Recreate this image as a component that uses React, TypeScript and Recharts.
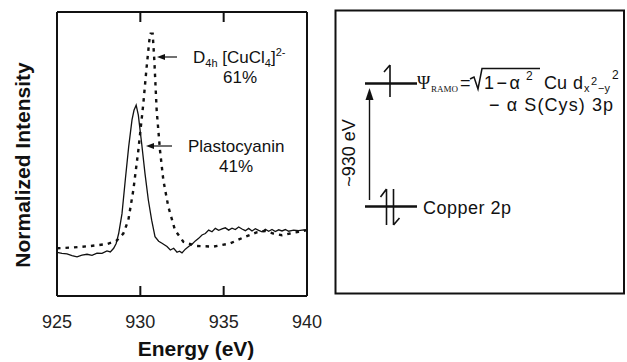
import { LineChart, Line, XAxis, YAxis } from 'recharts'

// Plastocyanin (solid)
const plastoEnergy = [
  925.0, 925.3, 925.6, 925.9, 926.2, 926.5, 926.8, 927.1, 927.4, 927.7, 928.0, 928.2, 928.4, 928.55,
  928.7, 928.9, 929.1, 929.3, 929.5, 929.62, 929.75, 929.88, 930.08, 930.28, 930.48, 930.68, 930.88,
  931.1, 931.3, 931.6, 931.8, 932.0, 932.2, 932.35, 932.5, 932.7, 932.9, 933.1, 933.3, 933.5, 933.7,
  933.9, 934.1, 934.3, 934.5, 934.7, 934.9, 935.1, 935.3, 935.5, 935.7, 935.9, 936.1, 936.3, 936.5,
  936.7, 936.9, 937.1, 937.3, 937.5, 937.7, 937.9, 938.1, 938.3, 938.5, 938.7, 938.9, 939.2, 939.5,
  939.8, 940.0,
]
const plastoIntensity = [
  15.4, 15.0, 14.8, 14.2, 13.8, 14.4, 14.7, 14.3, 15.1, 15.0, 15.9, 15.5, 16.8, 18.5,
  22, 29, 41, 52.5, 62, 65.4, 67.2, 63.7, 53.7, 43.1, 33.8, 26.7, 20.9,
  19.3, 18.6, 17.4, 16.2, 16.8, 15.4, 15.8, 15.2, 16.5, 17.4, 18.2, 19.4, 20.3, 21.5,
  22.0, 23.2, 22.6, 23.8, 23.1, 23.6, 24.0, 23.2, 23.9, 23.4, 24.3, 23.6, 23.0, 23.8,
  22.9, 23.7, 23.1, 22.6, 23.5, 22.8, 23.4, 22.7, 23.3, 22.9, 23.4, 22.8, 23.2, 23.0,
  23.3, 23.1,
]

// D4h [CuCl4]2- (dotted)
const cuclEnergy = [
  925.0, 926.0, 927.0, 928.0, 928.58, 928.98, 929.28, 929.58, 929.88, 930.18, 930.38, 930.54,
  930.62, 930.74, 930.84, 930.98, 931.18, 931.38, 931.68, 932.08, 932.58, 933.38, 934.38, 935.38,
  936.18, 936.98, 937.5, 937.98, 938.5, 938.98, 939.5, 940.0,
]
const cuclIntensity = [
  16.8, 17.1, 17.6, 18.3, 19.5, 22, 26.7, 37.3, 51.3, 67.8, 80.7, 90,
  92.4, 92.4, 83, 65.4, 51.3, 40.8, 31.4, 23.2, 19.1, 17.6, 17.4, 18.5,
  20.6, 22.4, 22.9, 22.0, 21.4, 22.0, 22.6, 23.2,
]

const energyTicks = [925, 930, 935, 940]

const plastoData = plastoEnergy.map((e, i) => ({ e, v: plastoIntensity[i] }))
const cuclData = cuclEnergy.map((e, i) => ({ e, v: cuclIntensity[i] }))

const SANS = '"Liberation Sans", Arial, Helvetica, sans-serif'
const SERIF = '"Liberation Serif", "Times New Roman", serif'
const INK = '#111'

// ticks point inward (up) with the value below the frame
const BottomTick = (props: any) => {
  const { x, y, payload } = props
  return (
    <g>
      <line x1={x} y1={y} x2={x} y2={y - 10} stroke={INK} strokeWidth={2} />
      <text x={x} y={y + 32} textAnchor="middle" fontSize={18} fontFamily={SANS} fill="#222">
        {payload.value}
      </text>
    </g>
  )
}

const TopTick = (props: any) => {
  const { x, y } = props
  return <line x1={x} y1={y} x2={x} y2={y + 10} stroke={INK} strokeWidth={2} />
}

export default function App() {
  return (
    <div style={{ position: 'absolute', left: 0, top: 0, width: 627, height: 362, background: '#fff' }}>
      <div style={{ position: 'absolute', left: 0, top: 0 }}>
        <LineChart width={330} height={362} margin={{ top: 11, right: 22, bottom: 36, left: 56 }}>
          <XAxis
            xAxisId="b"
            type="number"
            dataKey="e"
            domain={[925, 940]}
            ticks={energyTicks}
            allowDataOverflow
            height={30}
            tickSize={0}
            tickMargin={0}
            tick={BottomTick}
            axisLine={{ stroke: INK, strokeWidth: 2 }}
          />
          <XAxis
            xAxisId="t"
            orientation="top"
            type="number"
            dataKey="e"
            domain={[925, 940]}
            ticks={energyTicks}
            allowDataOverflow
            height={1}
            tickSize={0}
            tickMargin={0}
            tick={TopTick}
            axisLine={{ stroke: INK, strokeWidth: 2 }}
          />
          <YAxis
            yAxisId="l"
            domain={[0, 100]}
            width={1}
            tick={false}
            tickLine={false}
            axisLine={{ stroke: INK, strokeWidth: 2 }}
          />
          <YAxis
            yAxisId="r"
            orientation="right"
            domain={[0, 100]}
            width={1}
            tick={false}
            tickLine={false}
            axisLine={{ stroke: INK, strokeWidth: 2 }}
          />
          <Line
            data={cuclData}
            xAxisId="b"
            yAxisId="l"
            dataKey="v"
            type="linear"
            stroke={INK}
            strokeWidth={2.4}
            strokeDasharray="3.5 5"
            dot={false}
            isAnimationActive={false}
          />
          <Line
            data={plastoData}
            xAxisId="b"
            yAxisId="l"
            dataKey="v"
            type="linear"
            stroke={INK}
            strokeWidth={1.3}
            dot={false}
            isAnimationActive={false}
          />
        </LineChart>
      </div>

      {/* annotations + energy level diagram */}
      <svg
        width={627}
        height={362}
        style={{ position: 'absolute', left: 0, top: 0, pointerEvents: 'none' }}
      >
        <text
          transform="translate(30,165) rotate(-90)"
          textAnchor="middle"
          fontSize={21}
          fontWeight="bold"
          fontFamily={SANS}
          fill={INK}
        >
          Normalized Intensity
        </text>
        <text x={196} y={356} textAnchor="middle" fontSize={21} fontWeight="bold" fontFamily={SANS} fill={INK}>
          Energy (eV)
        </text>

        {/* curve labels */}
        <line x1={177} y1={57} x2={162} y2={57} stroke={INK} strokeWidth={1.2} />
        <polygon points="157,57 165,54 165,60" fill={INK} />
        <text x={193} y={63} fontSize={17} fontFamily={SANS} fill={INK}>
          D<tspan fontSize={11} dy={4}>4h</tspan>
          <tspan dy={-4}> [CuCl</tspan>
          <tspan fontSize={11} dy={4}>4</tspan>
          <tspan dy={-4}>]</tspan>
          <tspan fontSize={11} dy={-7}>2-</tspan>
        </text>
        <text x={240} y={83} textAnchor="middle" fontSize={17} fontFamily={SANS} fill={INK}>
          61%
        </text>

        <line x1={172} y1={146} x2={151} y2={146} stroke={INK} strokeWidth={1.2} />
        <polygon points="146,146 154,143 154,149" fill={INK} />
        <text x={188} y={152} fontSize={17} fontFamily={SANS} fill={INK}>
          Plastocyanin
        </text>
        <text x={236} y={172} textAnchor="middle" fontSize={17} fontFamily={SANS} fill={INK}>
          41%
        </text>

        {/* right panel */}
        <rect x={335.5} y={10.5} width={288.5} height={283} fill="none" stroke={INK} strokeWidth={2} />

        <line x1={365} y1={83.5} x2={417} y2={83.5} stroke={INK} strokeWidth={2.5} />
        <path d="M390,65 L390,97 M390,65 L384,72" stroke={INK} strokeWidth={1.6} fill="none" />

        <line x1={365} y1={206.5} x2={417} y2={206.5} stroke={INK} strokeWidth={2.5} />
        <path d="M386.5,189 L386.5,225 M386.5,189 L380.5,197" stroke={INK} strokeWidth={1.6} fill="none" />
        <path d="M393.5,189 L393.5,225 M393.5,225 L399.5,218" stroke={INK} strokeWidth={1.6} fill="none" />

        <line x1={369.5} y1={200} x2={369.5} y2={97} stroke={INK} strokeWidth={1.4} />
        <polygon points="369.5,88 365.5,100 373.5,100" fill={INK} />
        <text
          transform="translate(355,153) rotate(-90)"
          textAnchor="middle"
          fontSize={18}
          fontFamily={SANS}
          fill={INK}
        >
          ~930 eV
        </text>

        {/* Ψ_RAMO = √(1−α²) Cu d_(x²−y²) */}
        <path d="M470,79 L474,77 L478,89 L482,68.5 L540,68.5" stroke={INK} strokeWidth={1.5} fill="none" />
        <text y={89} fontSize={18} fontFamily={SANS} fill={INK}>
          <tspan x={417} fontFamily={SERIF}>Ψ</tspan>
          <tspan x={431} y={92} fontFamily={SERIF} fontSize={9}>RAMO</tspan>
          <tspan x={460} y={89}>=</tspan>
          <tspan x={484} letterSpacing={2.5}>1−α</tspan>
          <tspan x={526} y={80} fontSize={12}>2</tspan>
          <tspan x={544} y={89}>Cu</tspan>
          <tspan x={573}>d</tspan>
          <tspan x={584} y={92} fontSize={11}>x</tspan>
          <tspan x={591} y={85} fontSize={11}>2</tspan>
          <tspan x={598} y={92} fontSize={11}>−y</tspan>
          <tspan x={612} y={79} fontSize={12}>2</tspan>
        </text>
        <text x={489} y={111} fontSize={18} fontFamily={SANS} fill={INK} textLength={124} lengthAdjust="spacing">
          − α S(Cys) 3p
        </text>

        <text x={423} y={214} fontSize={18} fontFamily={SANS} fill={INK} textLength={88} lengthAdjust="spacing">
          Copper 2p
        </text>
      </svg>
    </div>
  )
}
